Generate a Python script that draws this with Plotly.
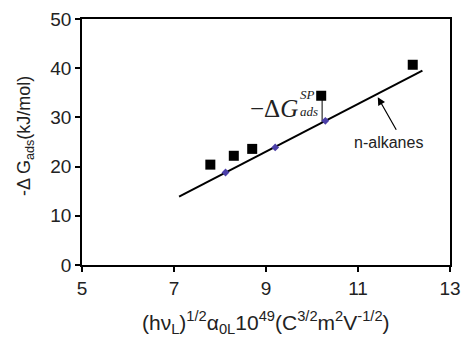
import plotly.graph_objects as go

# Data
sq_x = [7.79, 8.30, 8.70, 10.20, 12.19]
sq_y = [20.4, 22.2, 23.6, 34.4, 40.7]
alk_x = [8.12, 9.20, 10.29]
alk_y = [18.8, 23.9, 29.3]
line_x = [7.11, 12.40]
line_y = [13.9, 39.5]
sp_x = [10.22, 10.22]
sp_y = [34.4, 29.1]
x_ticks = [5, 7, 9, 11, 13]
y_ticks = [0, 10, 20, 30, 40, 50]

W, H = 463, 337
ml, mr, mt, mb = 82, 13, 19, 72

fig = go.Figure()
fig.add_trace(go.Scatter(x=line_x, y=line_y, mode="lines",
                         line=dict(color="black", width=2), showlegend=False))
fig.add_trace(go.Scatter(x=sp_x, y=sp_y, mode="lines",
                         line=dict(color="black", width=1), showlegend=False))
fig.add_trace(go.Scatter(x=alk_x, y=alk_y, mode="markers",
                         marker=dict(symbol="diamond", size=6, color="#4b3fa8"),
                         showlegend=False))
fig.add_trace(go.Scatter(x=sq_x, y=sq_y, mode="markers",
                         marker=dict(symbol="square", size=10, color="black"),
                         showlegend=False))

sans = "Liberation Sans, Arial, sans-serif"
serif = "Liberation Serif, Times New Roman, serif"
font = dict(family=sans, size=18, color="#222")
axis_common = dict(showgrid=False, zeroline=False, showline=True, linecolor="black",
                   linewidth=1.5, mirror=True, ticks="outside", ticklen=5,
                   tickcolor="black", tickwidth=1.5, tickfont=dict(family=sans, size=19, color="#222"),
                   automargin=False)

fig.update_xaxes(range=[5, 13], tickvals=x_ticks, **axis_common)
fig.update_yaxes(range=[0, 50], tickvals=y_ticks, **axis_common)

fig.add_annotation(x=0.5, y=-0.235, xref="paper", yref="paper", showarrow=False,
                   text="(hν<sub>L</sub>)<sup>1/2</sup>α<sub>0L</sub>10<sup>49</sup>(C<sup>3/2</sup>m<sup>2</sup>V<sup>-1/2</sup>)",
                   font=dict(family=sans, size=21, color="#222"), xanchor="center", yanchor="middle")
fig.add_annotation(x=-0.155, y=0.524, xref="paper", yref="paper", showarrow=False,
                   text="-Δ G<sub>ads</sub>(kJ/mol)", textangle=-90,
                   font=font, xanchor="center", yanchor="middle")

fig.add_annotation(x=9.74, y=31.9, xref="x", yref="y", showarrow=False,
                   text="−Δ<i>G</i>", font=dict(family=serif, size=25, color="#222"),
                   xanchor="right", yanchor="middle")
fig.add_annotation(x=9.70, y=34.6, xref="x", yref="y", showarrow=False,
                   text="<i>SP</i>", font=dict(family=serif, size=13, color="#222"),
                   xanchor="left", yanchor="middle")
fig.add_annotation(x=9.70, y=31.2, xref="x", yref="y", showarrow=False,
                   text="<i>ads</i>", font=dict(family=serif, size=13, color="#222"),
                   xanchor="left", yanchor="middle")

fig.add_annotation(x=11.43, y=34.1, ax=11.85, ay=27.2, xref="x", yref="y",
                   axref="x", ayref="y", showarrow=True, arrowhead=2, arrowsize=1.3,
                   arrowwidth=1.2, arrowcolor="black", text="")
fig.add_annotation(x=11.66, y=24.8, xref="x", yref="y", showarrow=False,
                   text="n-alkanes", font=dict(family=sans, size=16, color="#222"),
                   xanchor="center", yanchor="middle")

fig.update_layout(width=W, height=H, margin=dict(l=ml, r=mr, t=mt, b=mb),
                  paper_bgcolor="white", plot_bgcolor="white", showlegend=False)
fig.write_html("out.html", config={"displayModeBar": False},
               post_script="document.body.style.margin='0';document.body.style.overflow='hidden';")
